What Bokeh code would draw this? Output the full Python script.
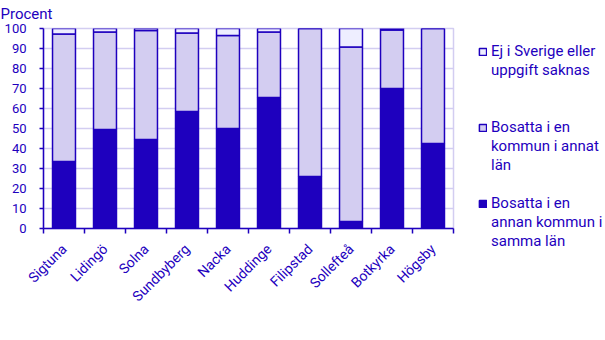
from bokeh.plotting import figure
from bokeh.models import (Range1d, FixedTicker, Legend, LegendItem, ColumnDataSource, Title)
from bokeh.embed import file_html
from bokeh.resources import INLINE
import math

kommuner = ["Sigtuna", "Lidingö", "Solna", "Sundbyberg", "Nacka",
            "Huddinge", "Filipstad", "Sollefteå", "Botkyrka", "Högsby"]
samma_lan = [33.5, 49.5, 44.5, 58.5, 50.0, 65.5, 26.0, 3.5, 70.0, 42.5]
annat_lan = [63.8, 48.8, 54.5, 39.3, 46.5, 32.8, 74.0, 87.3, 29.3, 57.5]
ej_sverige = [2.7, 1.7, 1.0, 2.2, 3.5, 1.7, 0.0, 9.2, 0.7, 0.0]
y_ticks = list(range(0, 101, 10))

series = ["samma", "annat", "ej"]
legend_lines = [["Bosatta i en", "annan kommun i", "samma län"],
                ["Bosatta i en", "kommun i annat", "län"],
                ["Ej i Sverige eller", "uppgift saknas"]]

DARK = "#1e00be"
LIGHT = "#d3cdf1"
PALE = "#eeeeff"
GRID = "#d3cdf1"
FONT = "Roboto"
colors = [DARK, LIGHT, PALE]

xs = [i + 0.5 for i in range(len(kommuner))]
src = ColumnDataSource(dict(x=xs, samma=samma_lan, annat=annat_lan, ej=ej_sverige))

p = figure(frame_width=410, frame_height=200, output_backend="svg", toolbar_location=None,
           x_range=Range1d(0, len(kommuner)), y_range=Range1d(0, 100),
           min_border_left=43, min_border_right=152, min_border_top=28,
           min_border_bottom=112)

renderers = p.vbar_stack(series, x="x", width=0.56, source=src,
                         fill_color=colors, line_color=DARK,
                         line_width=1.5)
blank = p.vbar(x=[], top=[], width=1, fill_alpha=0, line_alpha=0)

p.title = Title(text="Procent", align="left", offset=-43, standoff=8,
                vertical_align="top",
                text_font=FONT, text_font_size="15px", text_font_style="normal",
                text_color=DARK)

# y axis
ya = p.yaxis[0]
ya.ticker = FixedTicker(ticks=y_ticks)
ya.axis_line_color = DARK
ya.axis_line_width = 1.5
ya.major_tick_line_color = DARK
ya.major_tick_line_width = 1.5
ya.major_tick_in = 0
ya.major_tick_out = 4
ya.minor_tick_line_color = None
ya.major_label_text_font = FONT
ya.major_label_text_font_size = "13px"
ya.major_label_text_color = DARK
ya.major_label_standoff = 13

# x axis
xa = p.xaxis[0]
xa.ticker = FixedTicker(ticks=xs, minor_ticks=list(range(len(kommuner) + 1)))
xa.major_label_overrides = {x: k for x, k in zip(xs, kommuner)}
xa.major_label_orientation = math.pi / 4
xa.axis_line_color = DARK
xa.axis_line_width = 1.5
xa.major_tick_line_color = None
xa.minor_tick_line_color = DARK
xa.minor_tick_line_width = 1.5
xa.minor_tick_in = 0
xa.minor_tick_out = 5
xa.major_label_text_font = FONT
xa.major_label_text_font_size = "14px"
xa.major_label_text_color = DARK
xa.major_label_standoff = 12

p.xgrid.grid_line_color = None
p.ygrid.ticker = FixedTicker(ticks=y_ticks)
p.ygrid.grid_line_color = GRID
p.ygrid.grid_line_width = 1.5
p.outline_line_color = GRID
p.outline_line_width = 1.5

# legend: one row per text line, blank rows for the gaps
rows = []
for i, n_blank in [(2, 2), (1, 1), (0, 0)]:
    lines = legend_lines[i]
    rows.append(LegendItem(label=lines[0], renderers=[renderers[i]]))
    rows += [LegendItem(label=t, renderers=[blank]) for t in lines[1:]]
    rows += [LegendItem(label=" ", renderers=[blank]) for _ in range(n_blank)]

lg = Legend(items=rows, location=(25, -22), margin=0, padding=0,
            border_line_color=None, background_fill_alpha=0,
            glyph_width=9, glyph_height=9, label_standoff=4, spacing=1,
            label_height=18, label_text_font=FONT,
            label_text_font_size="15px", label_text_color=DARK)
p.add_layout(lg, "right")

open("out.html", "w").write(file_html(p, INLINE))
